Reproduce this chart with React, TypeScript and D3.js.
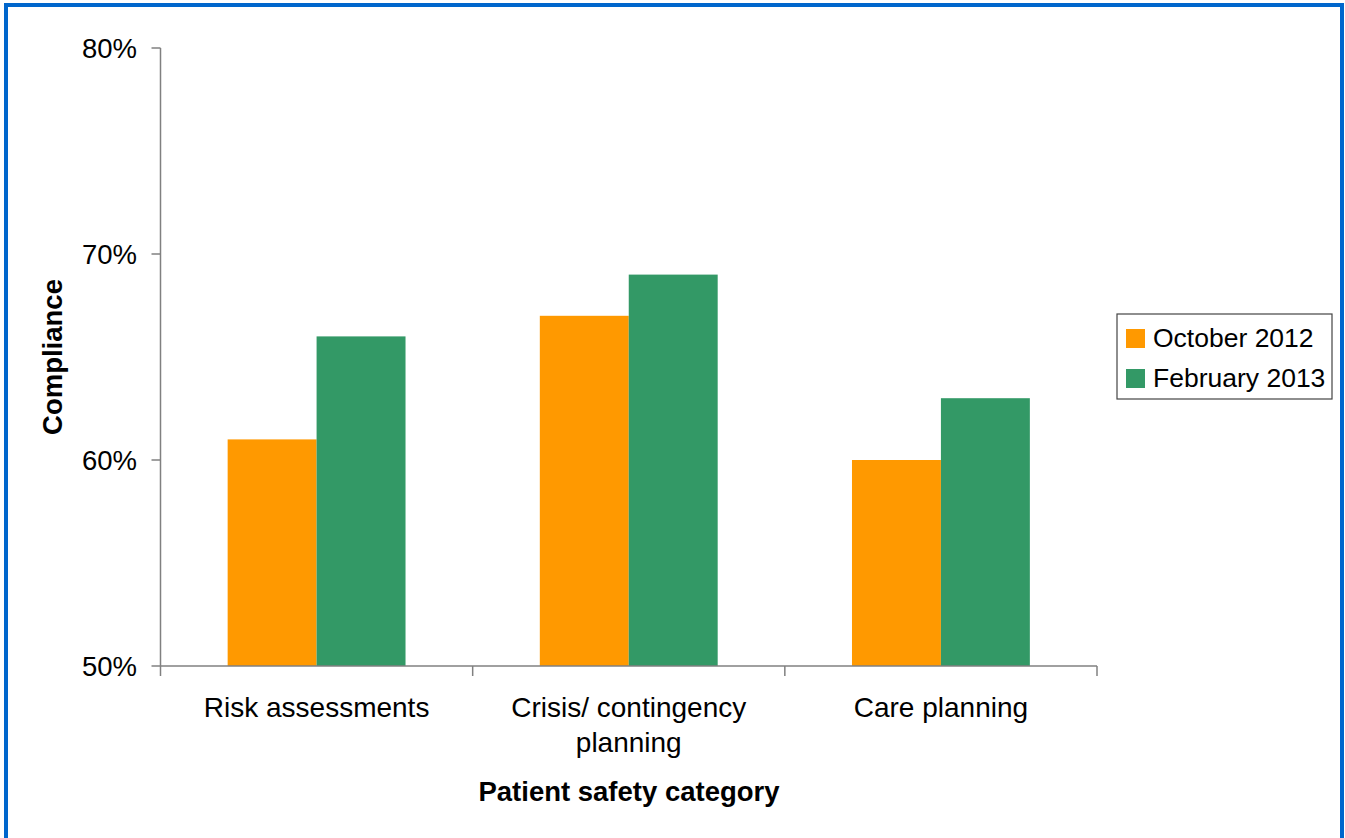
import React from "react";
import * as d3 from "d3";

// Compliance by patient safety category, two audit rounds
const categories = ["Risk assessments", "Crisis/ contingency planning", "Care planning"];
const categoryLines = [["Risk assessments"], ["Crisis/ contingency", "planning"], ["Care planning"]];
const seriesNames = ["October 2012", "February 2013"];
const october2012 = [0.61, 0.67, 0.6];
const february2013 = [0.66, 0.69, 0.63];
const yTicks = [0.5, 0.6, 0.7, 0.8];
const seriesColors = ["#FF9900", "#339966"];

const W = 1345;
const H = 838;
const FONT = "'Liberation Sans', Arial, Helvetica, sans-serif";

export default function App() {
  const left = 160.5;
  const right = 1097;
  const top = 48;
  const bottom = 666;

  const y = d3.scaleLinear().domain([0.5, 0.8]).range([bottom, top]);
  const x0 = d3.scaleBand<string>().domain(categories).range([left, right]);
  const x1 = d3
    .scaleBand<string>()
    .domain(seriesNames)
    .range([0, x0.bandwidth()])
    .paddingInner(0)
    .paddingOuter(0.755);
  const values = [october2012, february2013];
  const fmt = d3.format(".0%");
  const axisColor = "#808080";

  const catBoundaries = [...categories.map((c) => x0(c) as number), right];

  return (
    <svg
      width={W}
      height={H}
      style={{ position: "absolute", left: 0, top: 0, background: "#fff" }}
      fontFamily={FONT}
    >
      <rect x={0} y={0} width={W} height={H} fill="#fff" />
      {/* outer frame */}
      <rect x={6} y={5} width={1336} height={H + 20} fill="none" stroke="#0066CC" strokeWidth={4} />

      {/* bars */}
      {categories.map((c, ci) =>
        seriesNames.map((s, si) => {
          const v = values[si][ci];
          const bx = (x0(c) as number) + (x1(s) as number);
          return (
            <rect
              key={c + s}
              x={bx}
              y={y(v)}
              width={x1.bandwidth()}
              height={bottom - y(v)}
              fill={seriesColors[si]}
            />
          );
        })
      )}

      {/* y axis */}
      <line x1={left} x2={left} y1={top} y2={bottom} stroke={axisColor} strokeWidth={1.5} />
      {yTicks.map((t) => (
        <g key={t}>
          <line x1={left - 9} x2={left} y1={y(t)} y2={y(t)} stroke={axisColor} strokeWidth={1.5} />
          <text
            x={137}
            y={y(t)}
            dy="0.36em"
            textAnchor="end"
            fontSize={27.5}
            fill="#000"
          >
            {fmt(t)}
          </text>
        </g>
      ))}

      {/* x axis */}
      <line x1={left} x2={right} y1={bottom} y2={bottom} stroke={axisColor} strokeWidth={1.5} />
      {catBoundaries.map((bx, i) => (
        <line key={i} x1={bx} x2={bx} y1={bottom} y2={bottom + 10} stroke={axisColor} strokeWidth={1.5} />
      ))}
      {categories.map((c, ci) => (
        <text
          key={c}
          x={(x0(c) as number) + x0.bandwidth() / 2}
          y={717}
          textAnchor="middle"
          fontSize={28}
          fill="#000"
        >
          {categoryLines[ci].map((line, li) => (
            <tspan key={li} x={(x0(c) as number) + x0.bandwidth() / 2} dy={li === 0 ? 0 : 35}>
              {line}
            </tspan>
          ))}
        </text>
      ))}

      {/* axis titles */}
      <text x={629} y={801} textAnchor="middle" fontSize={27.5} fontWeight="bold" fill="#000">
        Patient safety category
      </text>
      <text
        transform={`translate(62, 357) rotate(-90)`}
        textAnchor="middle"
        fontSize={27.5}
        fontWeight="bold"
        fill="#000"
      >
        Compliance
      </text>

      {/* legend */}
      <rect x={1117} y={314} width={215} height={85} fill="#fff" stroke="#444" strokeWidth={1.2} />
      {seriesNames.map((s, si) => (
        <g key={s}>
          <rect x={1126} y={329 + si * 40} width={19} height={19} fill={seriesColors[si]} />
          <text x={1153} y={347 + si * 40} fontSize={26.5} fill="#000">
            {s}
          </text>
        </g>
      ))}
    </svg>
  );
}
